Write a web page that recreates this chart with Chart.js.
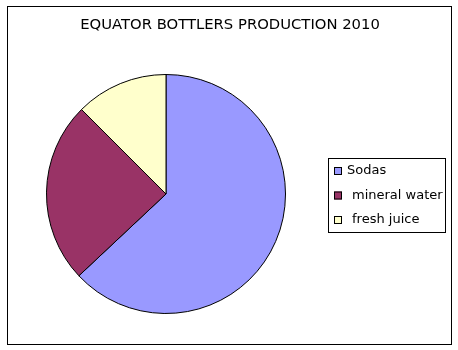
<!DOCTYPE html>
<html>
<head>
<meta charset="utf-8">
<script src="https://cdn.jsdelivr.net/npm/chart.js@4.4.0/dist/chart.umd.min.js"></script>
<style>
    html, body { margin: 0; padding: 0; background: #ffffff; }
    #wrap { width: 458px; height: 350px; position: relative; }
</style>
</head>
<body>
<div id="wrap"><canvas id="pieChart"></canvas></div>
<script>
// ==================== DATA ====================
const chartTitle = 'EQUATOR BOTTLERS PRODUCTION 2010';
const products = ['Sodas', 'mineral water', 'fresh juice'];
const production = [63, 24.5, 12.5];
const sliceColors = ['#9999ff', '#993366', '#ffffcc'];

// ==================== FRAME, TITLE, LEGEND ====================
const framePlugin = {
    id: 'frame',
    afterDraw(chart) {
        const ctx = chart.ctx;
        ctx.save();
        // outer border
        ctx.strokeStyle = '#000000';
        ctx.lineWidth = 1;
        ctx.strokeRect(7.5, 6.5, 444, 338);

        // title
        ctx.fillStyle = '#000000';
        ctx.font = '14.8px "DejaVu Sans"';
        ctx.textAlign = 'center';
        ctx.textBaseline = 'middle';
        ctx.fillText(chartTitle, 230, 25);

        // legend box
        ctx.strokeRect(328.5, 158.5, 117, 74);
        ctx.font = '13px "DejaVu Sans"';
        ctx.textAlign = 'left';
        const labels = chart.data.labels;
        const colors = chart.data.datasets[0].backgroundColor;
        labels.forEach((label, i) => {
            const y = 171 + i * 24.5;
            ctx.fillStyle = colors[i];
            ctx.fillRect(334, y - 4, 8, 8);
            ctx.strokeRect(334.5, y - 3.5, 7, 7);
            ctx.fillStyle = '#000000';
            ctx.fillText(label, i === 0 ? 347 : 352, y);
        });
        ctx.restore();
    }
};

const pieChart = new Chart(document.getElementById('pieChart').getContext('2d'), {
    type: 'pie',
    data: {
        labels: products,
        datasets: [{
            data: production,
            backgroundColor: sliceColors,
            borderColor: '#000000',
            borderWidth: 1
        }]
    },
    options: {
        responsive: true,
        maintainAspectRatio: false,
        animation: false,
        layout: { padding: { left: 46, right: 172, top: 74, bottom: 36 } },
        plugins: {
            legend: { display: false },
            title: { display: false },
            tooltip: { enabled: false }
        }
    },
    plugins: [framePlugin]
});
</script>
</body>
</html>
